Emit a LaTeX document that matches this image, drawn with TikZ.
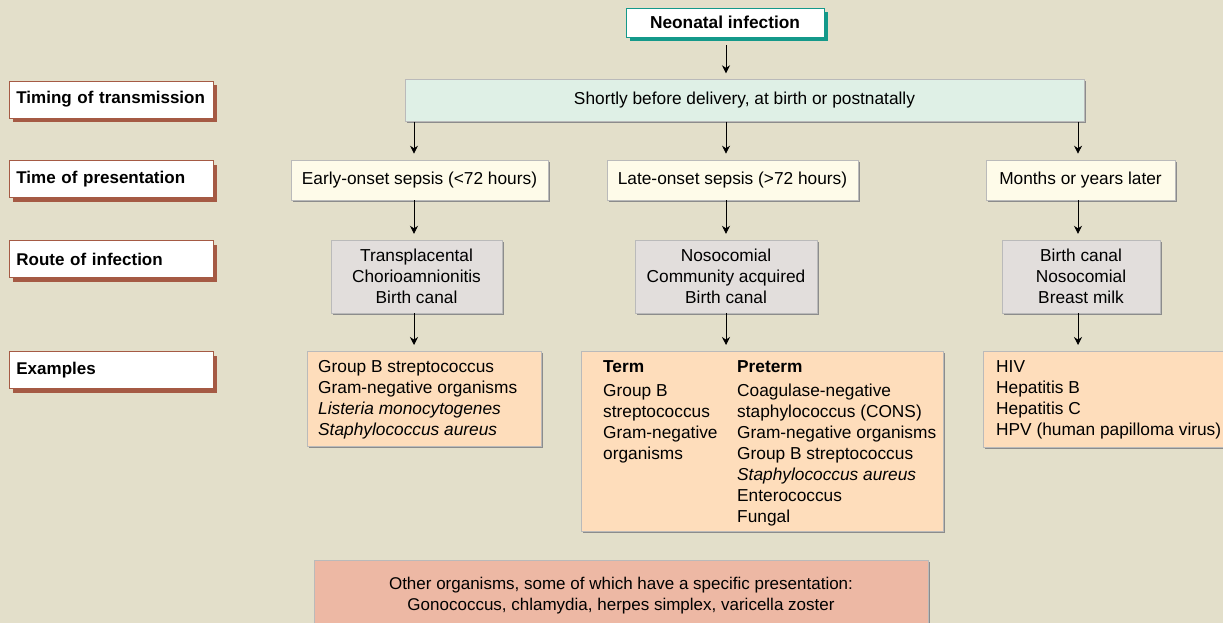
\documentclass[tikz,border=0pt]{standalone}
\usepackage{fontspec}
\setmainfont{Liberation Sans}
\usetikzlibrary{arrows.meta,shadows,calc}

\definecolor{bgc}{HTML}{E3DFCA}
\definecolor{mintc}{HTML}{DFF0E6}
\definecolor{creamc}{HTML}{FEFBE9}
\definecolor{greyc}{HTML}{E2DEDC}
\definecolor{peachc}{HTML}{FEDDBB}
\definecolor{salmonc}{HTML}{EDB8A4}
\definecolor{tealc}{HTML}{14998A}
\definecolor{brownc}{HTML}{A55A44}
\definecolor{edgec}{HTML}{8C8C8C}

\tikzset{
  txt/.style={font=\fontsize{17.3}{21}\selectfont},
  flatbox/.style={rectangle, inner sep=0pt, draw=edgec!60, line width=0.4pt,
    drop shadow={shadow xshift=1.6pt, shadow yshift=-1.6pt, fill=edgec, opacity=1}},
  headbox/.style={rectangle, inner sep=0pt, fill=white, draw=tealc, line width=0.9pt,
    minimum width=198pt, minimum height=29pt,
    font=\fontsize{17.3}{20}\selectfont\bfseries,
    drop shadow={shadow xshift=4pt, shadow yshift=-4pt, fill=tealc, opacity=1}},
  rowlabel/.style={rectangle, anchor=west, fill=white, draw=brownc, line width=0.8pt,
    minimum width=204pt, minimum height=37pt, inner xsep=7pt, inner ysep=0pt,
    text width=190pt, align=left, font=\fontsize{17}{19}\selectfont\bfseries,
    drop shadow={shadow xshift=4pt, shadow yshift=-4pt, fill=brownc, opacity=1}},
  listtxt/.style={txt, anchor=north west, inner sep=0pt, align=left},
  flow/.style={line width=0.8pt, -{Stealth[length=8pt,width=8pt]}, shorten >=6pt}
}

\begin{document}
\begin{tikzpicture}[x=1pt,y=-1pt]
  \fill[bgc] (0,0) rectangle (1223,623);
  \useasboundingbox (0,0) rectangle (1223,623);

  % column axes for the vertical arrows
  \coordinate (c1) at (414,0);
  \coordinate (c2) at (726,0);
  \coordinate (c3) at (1078,0);

  % title
  \node[headbox] (neo) at (725,22.5) {Neonatal infection};

  % row labels on the left
  \node[rowlabel] (lab1) at (9,99.5)  {Timing of transmission};
  \node[rowlabel] (lab2) at (9,179) {Time of presentation};
  \node[rowlabel] (lab3) at (9,259) {Route of infection};
  \node[rowlabel] (lab4) at (9,370) {Examples};

  % timing of transmission
  \node[flatbox, fill=mintc, txt, minimum width=679pt, minimum height=42pt]
    (timing) at (744.5,100.5) {Shortly before delivery, at birth or postnatally};

  % time of presentation
  \node[flatbox, fill=creamc, txt, minimum width=257pt, minimum height=40pt]
    (early) at (419.5,180) {Early-onset sepsis (<72 hours)};
  \node[flatbox, fill=creamc, txt, minimum width=251pt, minimum height=40pt]
    (late) at (732.5,180) {Late-onset sepsis (>72 hours)};
  \node[flatbox, fill=creamc, txt, minimum width=189pt, minimum height=40pt]
    (months) at (1080.5,180) {Months or years later};

  % route of infection
  \node[flatbox, fill=greyc, txt, align=center, minimum width=171pt, minimum height=73pt]
    (route1) at (416.5,276.5) {Transplacental\\Chorioamnionitis\\Birth canal};
  \node[flatbox, fill=greyc, txt, align=center, minimum width=182pt, minimum height=73pt]
    (route2) at (726,276.5) {Nosocomial\\Community acquired\\Birth canal};
  \node[flatbox, fill=greyc, txt, align=center, minimum width=158pt, minimum height=73pt]
    (route3) at (1081,276.5) {Birth canal\\Nosocomial\\Breast milk};

  % examples
  \node[flatbox, fill=peachc, anchor=north west, minimum width=234pt, minimum height=95pt]
    (ex1) at (307,351) {};
  \node[listtxt] (ex1t) at (318,360)
    {Group B streptococcus\\Gram-negative organisms\\\textit{Listeria monocytogenes}\\\textit{Staphylococcus aureus}};

  \node[flatbox, fill=peachc, anchor=north west, minimum width=362pt, minimum height=180pt]
    (ex2) at (581,351) {};
  \node[listtxt] (ex2a) at (603,360)
    {\textbf{Term}\\[3pt]Group B\\streptococcus\\Gram-negative\\organisms};
  \node[listtxt] (ex2b) at (737,360)
    {\textbf{Preterm}\\[3pt]Coagulase-negative\\staphylococcus (CONS)\\Gram-negative organisms\\Group B streptococcus\\\textit{Staphylococcus aureus}\\Enterococcus\\Fungal};

  \node[flatbox, fill=peachc, anchor=north west, minimum width=260pt, minimum height=96pt]
    (ex3) at (983,351) {};
  \node[listtxt] (ex3t) at (996,360)
    {HIV\\Hepatitis B\\Hepatitis C\\HPV (human papilloma virus)};

  % other organisms
  \node[flatbox, fill=salmonc, anchor=north west, minimum width=614pt, minimum height=90pt]
    (other) at (314,560) {};
  \node[font=\fontsize{17}{21}\selectfont, align=center, inner sep=0pt] (othert) at (621,595.5)
    {Other organisms, some of which have a specific presentation:\\Gonococcus, chlamydia, herpes simplex, varicella zoster};

  % connectors
  \draw[flow, shorten <=8pt] (neo.south -| c2) -- (timing.north -| c2);
  \foreach \c in {c1,c2,c3} \draw[flow] (timing.south -| \c) -- ++(0,38);
  \draw[flow] (early.south -| c1) -- (route1.north -| c1);
  \draw[flow] (late.south -| c2) -- (route2.north -| c2);
  \draw[flow] (months.south -| c3) -- (route3.north -| c3);
  \draw[flow] (route1.south -| c1) -- (ex1.north -| c1);
  \draw[flow] (route2.south -| c2) -- (ex2.north -| c2);
  \draw[flow] (route3.south -| c3) -- (ex3.north -| c3);
\end{tikzpicture}
\end{document}
